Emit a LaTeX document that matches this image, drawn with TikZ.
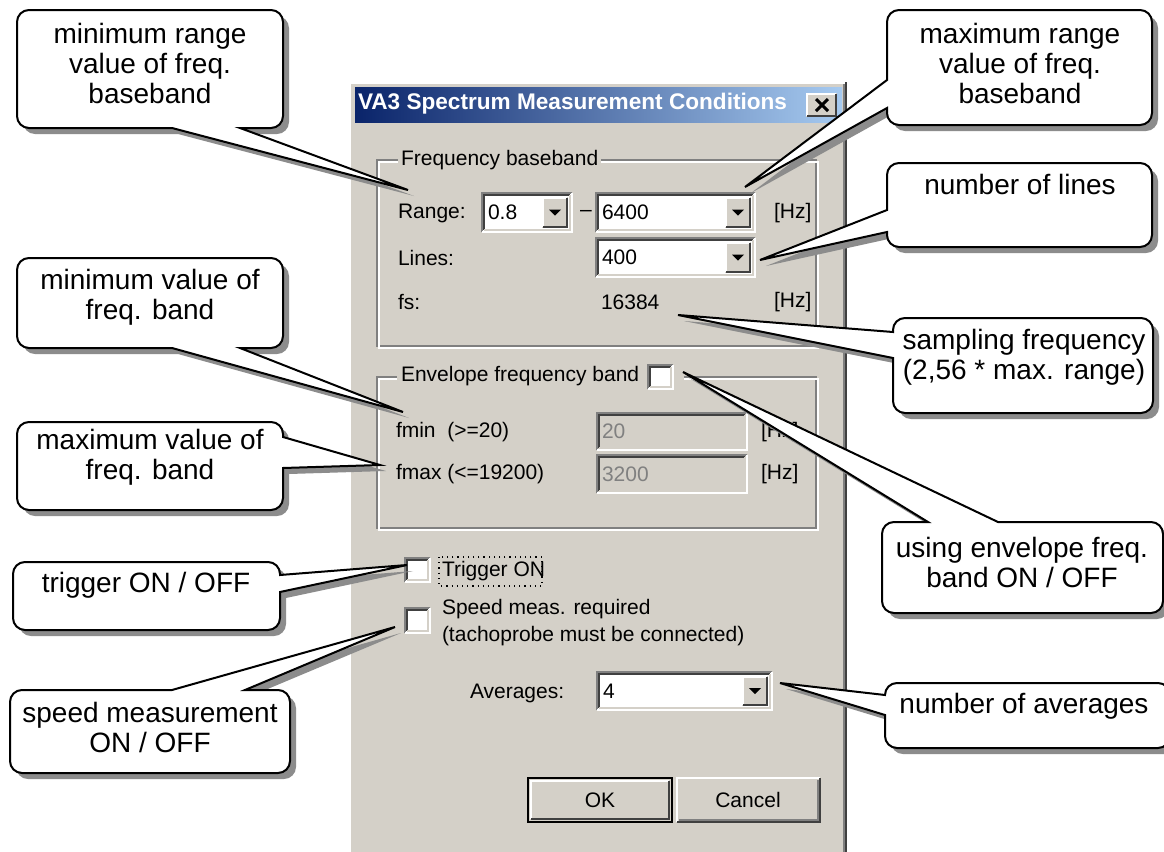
\documentclass[tikz,border=0pt]{standalone}
\usepackage{fontspec}
\setmainfont{Liberation Sans}
\usetikzlibrary{shadows}
\definecolor{winbg}{HTML}{D4D0C8}
\definecolor{titleA}{HTML}{0A246A}
\definecolor{titleB}{HTML}{A6CAF0}
\definecolor{etch}{HTML}{808080}
\definecolor{dark}{HTML}{404040}
\tikzset{
  bubble/.style={draw=black, fill=white, rounded corners=6pt,
    drop shadow={shadow xshift=3pt, shadow yshift=-3pt, fill=black!45, opacity=1}},
  calltext/.style={align=center, inner sep=0pt, font=\fontsize{14}{15}\selectfont},
  dlg/.style={anchor=west, inner sep=0pt, font=\fontsize{10.5}{12}\selectfont}
}

\begin{document}
\begin{tikzpicture}[x=0.5pt, y=-0.5pt, line width=1pt]
    \fill[white] (0,0) rectangle (1164,852);
    \useasboundingbox (0,0) rectangle (1164,852);
    % dialog window
    \fill[winbg] (349,82) rectangle (847,852);
    \draw[white] (350,852) -- (350,83) -- (845,83);
    \draw[etch] (844,84) -- (844,852);
    \draw[dark] (846,82) -- (846,852);
    \shade[left color=titleA, right color=titleB] (355,87) rectangle (842,122);
    \node[dlg, font=\bfseries\fontsize{11.3}{13}\selectfont, text=white] (title) at (357,104) {VA3 Spectrum Measurement Conditions};
    \fill[winbg] (806,93) rectangle (837,117);
    \draw[white] (807,116) -- (807,94) -- (836,94);
    \draw[dark] (836,94) -- (836,116) -- (807,116);
    \draw[line width=1.5pt] (816,99) -- (828,111) (828,99) -- (816,111);
    % group frames
    \foreach \ya/\yb in {160/348, 377/530}{
      \draw[etch] (377,\ya) rectangle (816,\yb-2);
      \draw[white] (379,\ya+2) rectangle (818,\yb);
    }
    \node[dlg, fill=winbg, inner xsep=1.5pt] (grpBase) at (397,160) {Frequency baseband};
    \fill[winbg] (397,364) rectangle (684,392);
    \node[dlg] (grpEnv) at (400,376) {Envelope frequency band};
    % sunken fields, combos and check boxes
    \foreach \xa/\ya/\xb/\yb/\bg in {482/193/572/232/white, 596/193/755/232/white, 596/238/755/277/white,
        597/672/772/710/white, 597/413/747/450/winbg, 597/455/747/493/winbg,
        648/365/673/389/white, 405/558/430/582/white, 405/608/430/633/white}{
      \path[fill=\bg] (\xa,\ya) rectangle (\xb,\yb);
      \draw[etch] (\xa,\yb) -- (\xa,\ya) -- (\xb,\ya);
      \draw[white] (\xb,\ya) -- (\xb,\yb) -- (\xa,\yb);
      \draw[dark] (\xa+2,\yb-2) -- (\xa+2,\ya+2) -- (\xb-2,\ya+2);
      \draw[winbg] (\xb-2,\ya+2) -- (\xb-2,\yb-2) -- (\xa+2,\yb-2);
    }
    % drop-down buttons
    \foreach \xb/\ya/\yb in {572/193/232, 755/193/232, 755/238/277, 772/672/710}{
      \fill[winbg] (\xb-30,\ya+4) rectangle (\xb-4,\yb-4);
      \draw[white] (\xb-29,\yb-5) -- (\xb-29,\ya+5) -- (\xb-5,\ya+5);
      \draw[dark] (\xb-5,\ya+5) -- (\xb-5,\yb-5) -- (\xb-29,\yb-5);
      \fill (\xb-23,{(\ya+\yb)/2-3}) -- (\xb-11,{(\ya+\yb)/2-3}) -- (\xb-17,{(\ya+\yb)/2+3}) -- cycle;
    }
    \foreach \xa/\ym/\val/\n in {487/212/0.8/Min, 601/212/6400/Max, 601/257/400/Lines, 602/691/4/Avg}
    \node[dlg] (val\n) at (\xa,\ym) {\val};
    \node[dlg, text=etch] (valFmin) at (601,431) {20};
    \node[dlg, text=etch] (valFmax) at (601,474) {3200};
    % buttons
    \fill[winbg] (528,778) rectangle (672,822);
    \draw[black] (528,778) rectangle (672,822);
    \draw[white] (531,819) -- (531,781) -- (669,781);
    \draw[dark] (669,781) -- (669,819) -- (531,819);
    \draw[white] (677,822) -- (677,778) -- (820,778);
    \draw[dark] (820,778) -- (820,822) -- (677,822);
    \draw[etch] (818,780) -- (818,820) -- (679,820);
    \node[dlg, anchor=center] (btnOk) at (600,800) {OK};
    \node[dlg, anchor=center] (btnCancel) at (748,800) {Cancel};
    % dialog labels
    \node[dlg] (lblRange) at (397,213) {Range:};
    \node[dlg] (lblDash) at (579,213) {--};
    \node[dlg] (hzRange) at (773,213) {[Hz]};
    \node[dlg] (lblLines) at (397,258) {Lines:};
    \node[dlg] (lblFs) at (397,302) {fs:};
    \node[dlg] (valFs) at (600,302) {16384};
    \node[dlg] (hzFs) at (773,302) {[Hz]};
    \node[dlg] (lblFmin) at (395,432) {fmin\ \ (>=20)};
    \node[dlg] (lblFmax) at (395,474) {fmax (<=19200)};
    \node[dlg] (hzFmin) at (760,432) {[Hz]};
    \node[dlg] (hzFmax) at (760,474) {[Hz]};
    \node[dlg] (lblTrig) at (441,571) {Trigger ON};
    \draw[dotted, line width=0.6pt] (439,557) rectangle (542,586);
    \node[dlg] (lblSpeed) at (441,609) {Speed meas. required};
    \node[dlg] (lblTacho) at (441,636) {(tachoprobe must be connected)};
    \node[dlg] (lblAvg) at (469,693) {Averages:};
    % pointer targets
    \coordinate (ptRange) at (408,190);
    \coordinate (ptMax) at (745,187);
    \coordinate (ptLines) at (760,260);
    \coordinate (ptFs) at (678,315);
    \coordinate (ptFmin) at (403,412);
    \coordinate (ptFmax) at (380,465);
    \coordinate (ptTrig) at (407,565);
    \coordinate (ptSpeed) at (395,627);
    \coordinate (ptEnv) at (683,372);
    \coordinate (ptAvg) at (780,683);
    % callouts
    \draw[bubble] (150,10) -- (283,10) -- (283,128) [sharp corners] -- (240,128) -- (ptRange) -- (172,128) [rounded corners=6pt] -- (17,128) -- (17,10) -- cycle;
    \node[calltext] (minRange) at (150,63) {minimum range\\value of freq.\\baseband};
    \draw[bubble] (1020,10) -- (1152,10) -- (1152,125) -- (887,125) [sharp corners] -- (887,108) -- (ptMax) -- (887,80) [rounded corners=6pt] -- (887,10) -- cycle;
    \node[calltext] (maxRange) at (1020,63) {maximum range\\value of freq.\\baseband};
    \draw[bubble] (1020,163) -- (1152,163) -- (1152,247) -- (887,247) [sharp corners] -- (887,232) -- (ptLines) -- (887,210) [rounded corners=6pt] -- (887,163) -- cycle;
    \node[calltext] (numLines) at (1020,184) {number of lines};
    \draw[bubble] (1023,318) -- (1153,318) -- (1153,413) -- (893,413) [sharp corners] -- (893,358) -- (ptFs) -- (893,332) [rounded corners=6pt] -- (893,318) -- cycle;
    \node[calltext] (sampFreq) at (1024,357) {sampling frequency\\(2,56 * max. range)};
    \draw[bubble] (150,258) -- (283,258) -- (283,348) [sharp corners] -- (240,348) -- (ptFmin) -- (172,348) [rounded corners=6pt] -- (17,348) -- (17,258) -- cycle;
    \node[calltext] (minVal) at (150,297) {minimum value of\\freq. band};
    \draw[bubble] (150,422) -- (283,422) [sharp corners] -- (283,437) -- (ptFmax) -- (283,468) [rounded corners=6pt] -- (283,510) -- (17,510) -- (17,422) -- cycle;
    \node[calltext] (maxVal) at (150,457) {maximum value of\\freq. band};
    \draw[bubble] (146,562) -- (280,562) [sharp corners] -- (280,575) -- (ptTrig) -- (280,592) [rounded corners=6pt] -- (280,630) -- (13,630) -- (13,562) -- cycle;
    \node[calltext] (trigOnOff) at (146,585) {trigger ON / OFF};
    \draw[bubble] (150,773) -- (10,773) -- (10,690) [sharp corners] -- (172,690) -- (ptSpeed) -- (245,690) [rounded corners=6pt] -- (290,690) -- (290,773) -- cycle;
    \node[calltext] (speedOnOff) at (150,727) {speed measurement\\ON / OFF};
    \draw[bubble] (1020,613) -- (882,613) -- (882,522) [sharp corners] -- (928,522) -- (ptEnv) -- (998,522) [rounded corners=6pt] -- (1163,522) -- (1163,613) -- cycle;
    \node[calltext] (envOnOff) at (1022,562) {using envelope freq.\\band ON / OFF};
    \draw[bubble] (1020,683) -- (1170,683) -- (1170,748) -- (885,748) [sharp corners] -- (885,715) -- (ptAvg) -- (885,695) [rounded corners=6pt] -- (885,683) -- cycle;
    \node[calltext] (numAvg) at (1024,706) {number of averages};
\end{tikzpicture}
\end{document}
